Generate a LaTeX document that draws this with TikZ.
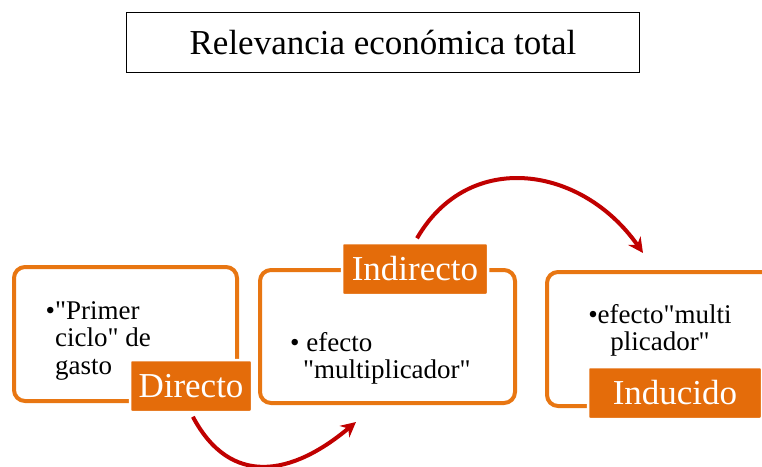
\documentclass[tikz,border=0pt]{standalone}
\usepackage{fontspec}
\setmainfont{Liberation Serif}[Ligatures=TeXOff]
\usetikzlibrary{arrows.meta}

\definecolor{tagorange}{RGB}{228,108,10}
\definecolor{cardorange}{RGB}{232,118,18}
\definecolor{arrowred}{RGB}{192,0,0}
\newcommand\straightq{\symbol{34}}

\tikzset{
	cardbox/.style={draw=cardorange, line width=4pt, rounded corners=11pt, fill=white},
	tagbox/.style={draw=white, line width=2.5pt, fill=tagorange, text=white, rounded corners=2pt,
		font=\fontsize{35}{38}\selectfont, inner sep=0pt},
	cardtext/.style={font=\fontsize{27}{27.5}\selectfont, inner sep=0pt},
	flow/.style={draw=arrowred, line width=4pt, -{Stealth[length=15pt,width=15pt]}},
}

\begin{document}
\begin{tikzpicture}[x=1pt,y=1pt]%[every node/.style={draw=red}]
	\useasboundingbox (0,0) rectangle (762,-466);
	\clip (0,0) rectangle (762,-466);
	\node[draw, line width=1.2pt, minimum width=513pt, minimum height=60pt,
		font=\fontsize{35}{38}\selectfont] (title) at (383,-42.5) {Relevancia económica total};

	% directo
	\node[cardbox, minimum width=223pt, minimum height=134pt] (directobox) at (125.5,-334) {};
	\node[cardtext, align=left, anchor=north west] (directotxt) at (55,-301)
		{\llap{\textbullet}\straightq Primer\\ciclo\straightq{} de\\gasto};
	\node[tagbox, minimum width=122pt, minimum height=52pt] (directo) at (191,-386) {Directo};

	% indirecto
	\node[cardbox, minimum width=255pt, minimum height=133pt] (indirectobox) at (387.5,-336.5) {};
	\node[cardtext, align=left, anchor=north west] (indirectotxt) at (290,-332)
		{\textbullet{} efecto\\\hspace*{13pt}\straightq multiplicador\straightq};
	\node[tagbox, minimum width=146pt, minimum height=52pt] (indirecto) at (415,-269) {Indirecto};

	% inducido
	\node[cardbox, minimum width=243pt, minimum height=134pt] (inducidobox) at (668.5,-339) {};
	\node[cardtext, align=center, anchor=north] (inducidotxt) at (660,-304)
		{\textbullet efecto\straightq multi\\plicador\straightq};
	\node[tagbox, minimum width=174pt, minimum height=52pt] (inducido) at (675,-393) {Inducido};

	\coordinate (toindirecto) at (356,-422);
	\coordinate (toinducido) at (643,-253);
	\draw[flow, shorten <=4pt] (directo.south) to[out=-62, in=-140, looseness=1.3] (toindirecto);
	\draw[flow, shorten <=4pt] (indirecto.north) to[out=60, in=125, looseness=1.2] (toinducido);
\end{tikzpicture}
\end{document}
